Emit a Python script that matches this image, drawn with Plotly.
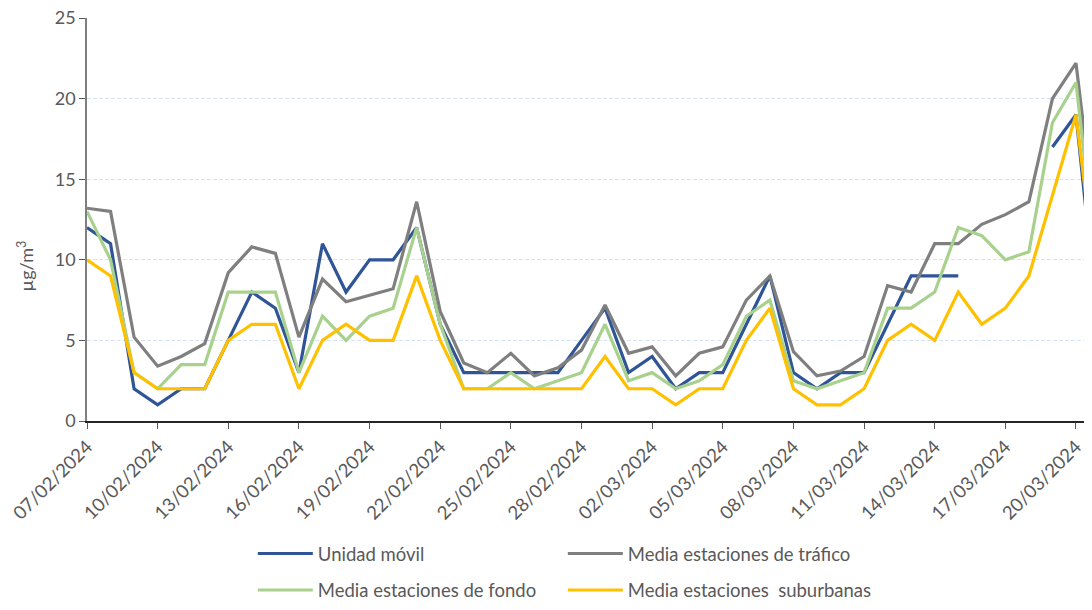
import pandas as pd
import plotly.graph_objects as go

dates = pd.date_range("2024-02-07", "2024-03-21", freq="D").strftime("%Y-%m-%d").tolist()

unidad_movil = [12, 11, 2, 1, 2, 2, 5, 8, 7, 3, 11, 8, 10, 10, 12, 6, 3, 3, 3, 3, 3, 5,
                7, 3, 4, 2, 3, 3, 6, 9, 3, 2, 3, 3, 6, 9, 9, 9, None, None, None, 17, 19, 5]
media_trafico = [13.2, 13.0, 5.2, 3.4, 4.0, 4.8, 9.2, 10.8, 10.4, 5.2, 8.8, 7.4, 7.8, 8.2,
                 13.6, 6.8, 3.6, 3.0, 4.2, 2.8, 3.3, 4.4, 7.2, 4.2, 4.6, 2.8, 4.2, 4.6,
                 7.5, 9.0, 4.3, 2.8, 3.1, 4.0, 8.4, 8.0, 11.0, 11.0, 12.2, 12.8, 13.6,
                 20.0, 22.2, 10.0]
media_fondo = [13, 10, 3, 2, 3.5, 3.5, 8, 8, 8, 3, 6.5, 5, 6.5, 7, 12, 6, 2, 2, 3, 2,
               2.5, 3, 6, 2.5, 3, 2, 2.5, 3.5, 6.5, 7.5, 2.5, 2, 2.5, 3, 7, 7, 8, 12,
               11.5, 10, 10.5, 18.5, 21, 8]
media_suburbanas = [10, 9, 3, 2, 2, 2, 5, 6, 6, 2, 5, 6, 5, 5, 9, 5, 2, 2, 2, 2, 2, 2,
                    4, 2, 2, 1, 2, 2, 5, 7, 2, 1, 1, 2, 5, 6, 5, 8, 6, 7, 9, 14, 19, 7]

series_names = ["Unidad móvil", "Media estaciones de tráfico",
                "Media estaciones de fondo", "Media estaciones\u00a0 suburbanas"]
series_values = [unidad_movil, media_trafico, media_fondo, media_suburbanas]
series_colors = ["#2F5597", "#7F7F7F", "#A9D18E", "#FFC000"]
series_legends = ["legend", "legend", "legend2", "legend2"]

fig = go.Figure()
for name, vals, col, lg in zip(series_names, series_values, series_colors, series_legends):
    fig.add_trace(go.Scatter(
        x=dates, y=vals, name=name, mode="lines",
        line=dict(color=col, width=3.2),
        connectgaps=False, legend=lg,
    ))

xtick_font = dict(family="Lato", size=18.5, color="#595959")
ytick_font = dict(family="Lato", size=18, color="#595959")
legend_font = dict(family="Lato", size=18.5, color="#595959")

fig.update_layout(
    width=1092, height=610,
    margin=dict(l=79, r=8, t=10, b=191),
    paper_bgcolor="white", plot_bgcolor="white",
    font=dict(family="Lato", size=18, color="#595959"),
    xaxis=dict(
        type="date", automargin=False,
        range=["2024-02-07", "2024-03-20 16:19"],
        tick0="2024-02-07", dtick=3 * 86400000,
        tickformat="%d/%m/%Y", tickangle=-45,
        tickfont=xtick_font, ticklabeloverflow="allow",
        showgrid=False, zeroline=False,
        showline=True, linecolor="#262626", linewidth=1.5,
        ticks="outside", ticklen=6, tickcolor="#595959", tickwidth=1,
    ),
    yaxis=dict(
        range=[0, 25], dtick=5, automargin=False,
        tickfont=ytick_font, ticklabeloverflow="allow",
        showgrid=True, gridcolor="#D6E2F5", griddash="4px,2px", gridwidth=1,
        zeroline=False,
        showline=True, linecolor="#7F7F7F", linewidth=1.5,
        ticks="outside", ticklen=6, tickcolor="#595959", tickwidth=1,
    ),
    legend=dict(
        orientation="h", x=0.165, y=-0.330, xanchor="left", yanchor="middle",
        entrywidth=240, font=legend_font,
        itemwidth=55, bgcolor="rgba(0,0,0,0)",
    ),
    legend2=dict(
        orientation="h", x=0.165, y=-0.4205, xanchor="left", yanchor="middle",
        entrywidth=240, font=legend_font,
        itemwidth=55, bgcolor="rgba(0,0,0,0)",
    ),
    annotations=[dict(
        text="µg/m<sup>3</sup>", xref="paper", yref="paper",
        x=-0.0607, y=0.386, xanchor="center", yanchor="middle",
        textangle=-90, showarrow=False,
        font=dict(family="Lato", size=18, color="#595959"),
    )],
)

fig.write_html("out.html")
